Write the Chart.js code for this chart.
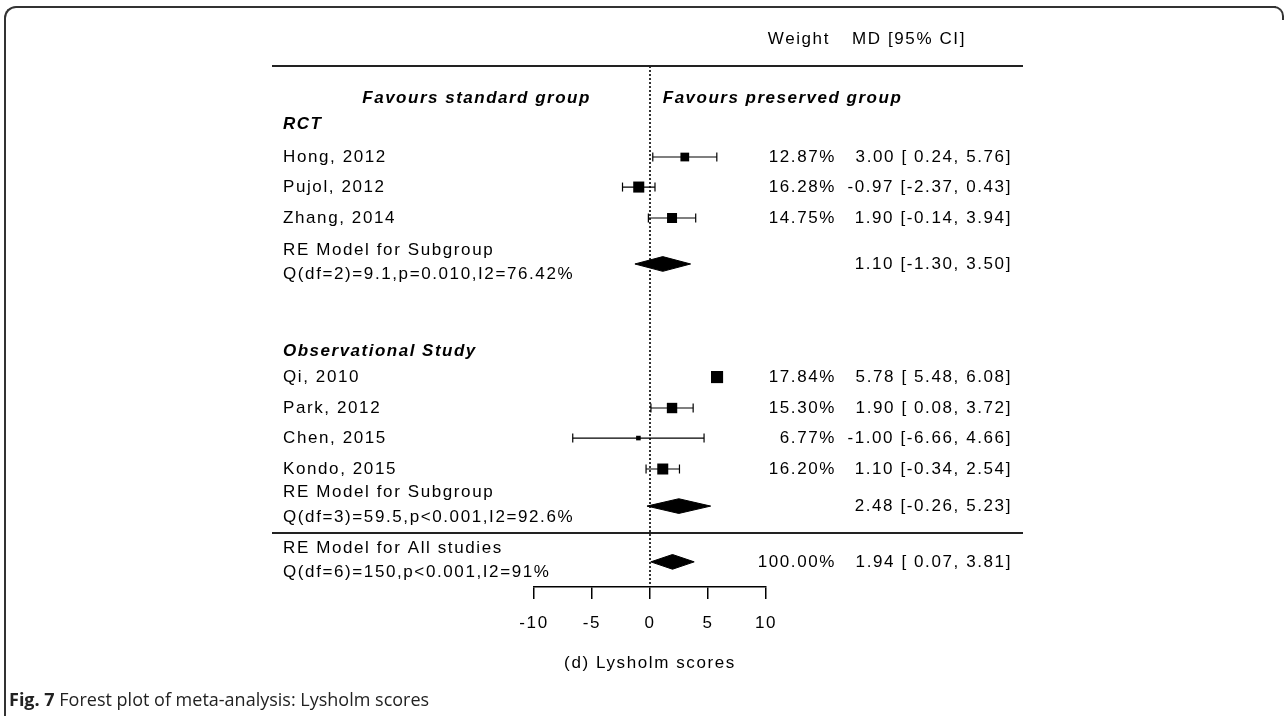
<!DOCTYPE html>
<html>
<head>
<meta charset="utf-8">
<script src="https://cdn.jsdelivr.net/npm/chart.js@4.4.1/dist/chart.umd.min.js"></script>
<style>
  body { margin: 0; background: #fff; }
  #wrap { position: relative; width: 1288px; height: 716px; overflow: hidden; }
  canvas { position: absolute; left: 0; top: 0; }
  #frame { position: absolute; left: 4px; top: 6px; width: 1270px; height: 740px;
    border-top: 2px solid #333; border-left: 2px solid #333; border-top-left-radius: 12px; }
  #corner { position: absolute; left: 1272px; top: 6px; width: 10px; height: 12px;
    border-top: 2px solid #333; border-right: 2px solid #333; border-top-right-radius: 10px; }
  #caption { position: absolute; left: 9px; top: 687px; font: 18px "Open Sans", sans-serif; color: #222; }
</style>
</head>
<body>
<div id="wrap">
  <canvas id="grafico" width="1288" height="716"></canvas>
  <div id="frame"></div>
  <div id="corner"></div>
  <div id="caption"><b>Fig. 7</b> Forest plot of meta-analysis: Lysholm scores</div>
</div>
<script>
// Estudios individuales (MD e IC 95%, peso en %)
const studies = ['Hong, 2012', 'Pujol, 2012', 'Zhang, 2014', 'Qi, 2010', 'Park, 2012', 'Chen, 2015', 'Kondo, 2015'];
const md = [3.00, -0.97, 1.90, 5.78, 1.90, -1.00, 1.10];
const ciLow = [0.24, -2.37, -0.14, 5.48, 0.08, -6.66, -0.34];
const ciHigh = [5.76, 0.43, 3.94, 6.08, 3.72, 4.66, 2.54];
const weights = [12.87, 16.28, 14.75, 17.84, 15.30, 6.77, 16.20];

// Modelos agrupados (subgrupos y total)
const groupNames = ['RCT', 'Observational Study'];
const pooledTitle = ['RE Model for Subgroup', 'RE Model for Subgroup', 'RE Model for All studies'];
const pooledStats = ['Q(df=2)=9.1,p=0.010,I2=76.42%', 'Q(df=3)=59.5,p<0.001,I2=92.6%', 'Q(df=6)=150,p<0.001,I2=91%'];
const pooledMd = [1.10, 2.48, 1.94];
const pooledLow = [-1.30, -0.26, 0.07];
const pooledHigh = [3.50, 5.23, 3.81];
const pooledWeight = [null, null, 100.00];

const xTicks = [-10, -5, 0, 5, 10];
const xTitle = '(d) Lysholm scores';

// Filas (en unidades del eje y, de arriba hacia abajo)
const studyRow = [2.97, 3.95, 4.96, 10.15, 11.16, 12.14, 13.15];
const pooledRow = [6.46, 14.36, 16.18];
const groupRow = [1.89, 9.3];

// Columnas de texto (px)
const LABEL_X = 283, WEIGHT_R = 836, MD_R = 1012, LINE_L = 272, LINE_R = 1023;
const FONT = '"Liberation Sans", Arial, sans-serif';

const fmt = v => v.toFixed(2);
const ciText = (m, lo, hi) => `${fmt(m)} [${lo >= 0 ? ' ' : ''}${fmt(lo)}, ${fmt(hi)}]`;

const datasets = [];
// línea de referencia punteada en 0
datasets.push({ data: [{ x: 0, y: 0 }, { x: 0, y: 17 }], borderColor: '#000', borderWidth: 1.6,
  borderDash: [2, 2], pointRadius: 0 });
// intervalos de confianza con topes
studies.forEach((s, i) => {
  datasets.push({ data: [{ x: ciLow[i], y: studyRow[i] }, { x: ciHigh[i], y: studyRow[i] }],
    borderColor: '#000', borderWidth: 1.2, pointStyle: 'line', pointRadius: 4.5, pointRotation: 90,
    pointBorderWidth: 1.2, pointBorderColor: '#000' });
});
// cuadros proporcionales al peso
datasets.push({ data: md.map((m, i) => ({ x: m, y: studyRow[i] })), showLine: false,
  pointStyle: 'rect', pointRadius: weights.map(w => w * 0.48), pointBackgroundColor: '#000',
  pointBorderWidth: 0 });
// diamantes
pooledMd.forEach((m, i) => {
  const r = pooledRow[i];
  datasets.push({ data: [{ x: pooledLow[i], y: r }, { x: m, y: r - 0.24 }, { x: pooledHigh[i], y: r },
      { x: m, y: r + 0.24 }, { x: pooledLow[i], y: r }],
    borderColor: '#000', backgroundColor: '#000', borderWidth: 1, fill: 'shape', pointRadius: 0 });
});

const textPlugin = {
  id: 'forestText',
  beforeDraw(chart) { chart.ctx.letterSpacing = '1.6px'; },
  afterDraw(chart) {
    const { ctx } = chart;
    const y = chart.scales.y, x = chart.scales.x;
    ctx.save();
    ctx.letterSpacing = '1.6px';
    ctx.fillStyle = '#000';
    ctx.textBaseline = 'middle';
    ctx.font = '17px ' + FONT;

    // encabezados
    ctx.textAlign = 'right';
    ctx.fillText('Weight', 830, y.getPixelForValue(-0.88));
    ctx.textAlign = 'left';
    ctx.fillText('MD [95% CI]', 852, y.getPixelForValue(-0.88));

    // estudios
    studies.forEach((s, i) => {
      const py = y.getPixelForValue(studyRow[i]);
      ctx.textAlign = 'left';
      ctx.fillText(s, LABEL_X, py);
      ctx.textAlign = 'right';
      ctx.fillText(fmt(weights[i]) + '%', WEIGHT_R, py);
      ctx.fillText(ciText(md[i], ciLow[i], ciHigh[i]), MD_R, py);
    });

    // modelos agrupados
    pooledMd.forEach((m, i) => {
      const r = pooledRow[i];
      ctx.textAlign = 'left';
      ctx.fillText(pooledTitle[i], LABEL_X, y.getPixelForValue(r - 0.45));
      ctx.fillText(pooledStats[i], LABEL_X, y.getPixelForValue(r + 0.35));
      ctx.textAlign = 'right';
      if (pooledWeight[i] !== null) ctx.fillText(fmt(pooledWeight[i]) + '%', WEIGHT_R, y.getPixelForValue(r));
      ctx.fillText(ciText(m, pooledLow[i], pooledHigh[i]), MD_R, y.getPixelForValue(r));
    });

    // grupos y rótulos "Favours"
    ctx.font = 'bold italic 17px ' + FONT;
    ctx.letterSpacing = '1.5px';
    ctx.textAlign = 'left';
    groupNames.forEach((g, i) => ctx.fillText(g, LABEL_X, y.getPixelForValue(groupRow[i])));
    ctx.textAlign = 'right';
    ctx.fillText('Favours standard group', x.getPixelForValue(-5.1), y.getPixelForValue(1.04));
    ctx.textAlign = 'left';
    ctx.fillText('Favours preserved group', x.getPixelForValue(1.1), y.getPixelForValue(1.04));

    // líneas horizontales
    ctx.strokeStyle = '#222';
    ctx.lineWidth = 2;
    [0, 15.24].forEach(v => {
      const py = Math.round(y.getPixelForValue(v));
      ctx.beginPath(); ctx.moveTo(LINE_L, py); ctx.lineTo(LINE_R, py); ctx.stroke();
    });
    ctx.restore();
  }
};

new Chart(document.getElementById('grafico'), {
  type: 'line',
  data: { datasets },
  options: {
    responsive: false,
    animation: false,
    events: [],
    devicePixelRatio: 1,
    layout: { padding: { left: 534, right: 522, top: 66, bottom: 42 } },
    plugins: { legend: { display: false }, tooltip: { enabled: false } },
    elements: { line: { tension: 0 } },
    scales: {
      x: {
        type: 'linear', min: -10, max: 10,
        afterBuildTicks: s => { s.ticks = xTicks.map(v => ({ value: v })); },
        afterFit: s => { s.height = 87; },
        grid: { drawOnChartArea: false, drawTicks: true, tickLength: 12, color: '#000', lineWidth: 1.5 },
        border: { display: true, color: '#000', width: 1.5 },
        ticks: { color: '#000', font: { family: FONT, size: 17 }, padding: 14, maxRotation: 0, autoSkip: false },
        title: { display: true, text: xTitle, color: '#000', font: { family: FONT, size: 17 }, padding: { top: 0, bottom: 0 } }
      },
      y: { type: 'linear', min: 0, max: 17, reverse: true, display: false }
    }
  },
  plugins: [textPlugin]
});
</script>
</body>
</html>
